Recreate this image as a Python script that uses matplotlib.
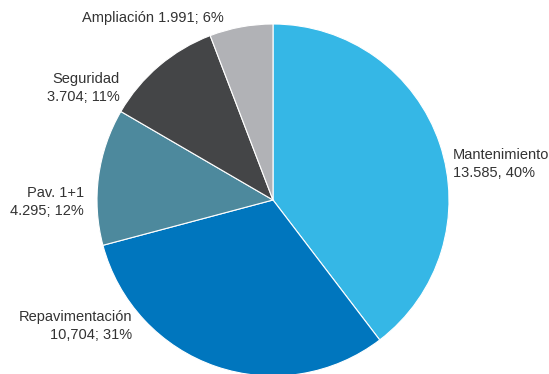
import matplotlib.pyplot as plt

# Investment by programme
categories = ["Mantenimiento", "Repavimentación", "Pav. 1+1", "Seguridad", "Ampliación"]
values = [13585, 10704, 4295, 3704, 1991]
value_labels = ["13.585", "10,704", "4.295", "3.704", "1.991"]
pct_labels = ["40%", "31%", "12%", "11%", "6%"]
colors = ["#35b7e6", "#0076be", "#4d899d", "#444547", "#b1b2b6"]

W, H = 549, 374
fig = plt.figure(figsize=(W / 100, H / 100), dpi=100)
ax = fig.add_axes([0, 0, 1, 1])

ax.pie(values, colors=colors, startangle=90, counterclock=False,
       center=(273, H - 200), radius=176,
       wedgeprops=dict(edgecolor="white", linewidth=0.8))

# pie() resets the view, so fix pixel-like limits afterwards
ax.set_xlim(0, W)
ax.set_ylim(0, H)
ax.set_aspect("equal")
ax.axis("off")

font = dict(family=["Liberation Sans", "DejaVu Sans"], fontsize=10.5, color="#333333")
# label text, anchor (x, y from top), alignment
texts = [
    (f"{categories[0]}\n{value_labels[0]}, {pct_labels[0]}", 453, 164, "left"),
    (f"{categories[1]}\n{value_labels[1]}; {pct_labels[1]}", 132, 326, "right"),
    (f"{categories[2]}\n{value_labels[2]}; {pct_labels[2]}", 84, 202, "right"),
    (f"{categories[3]}\n{value_labels[3]}; {pct_labels[3]}", 120, 88, "right"),
    (f"{categories[4]} {value_labels[4]}; {pct_labels[4]}", 224, 18, "right"),
]
for s, x, y, ha in texts:
    ax.text(x, H - y, s, ha=ha, va="center", multialignment=ha,
            linespacing=1.3, **font)

fig.savefig("out.png", dpi=100)
